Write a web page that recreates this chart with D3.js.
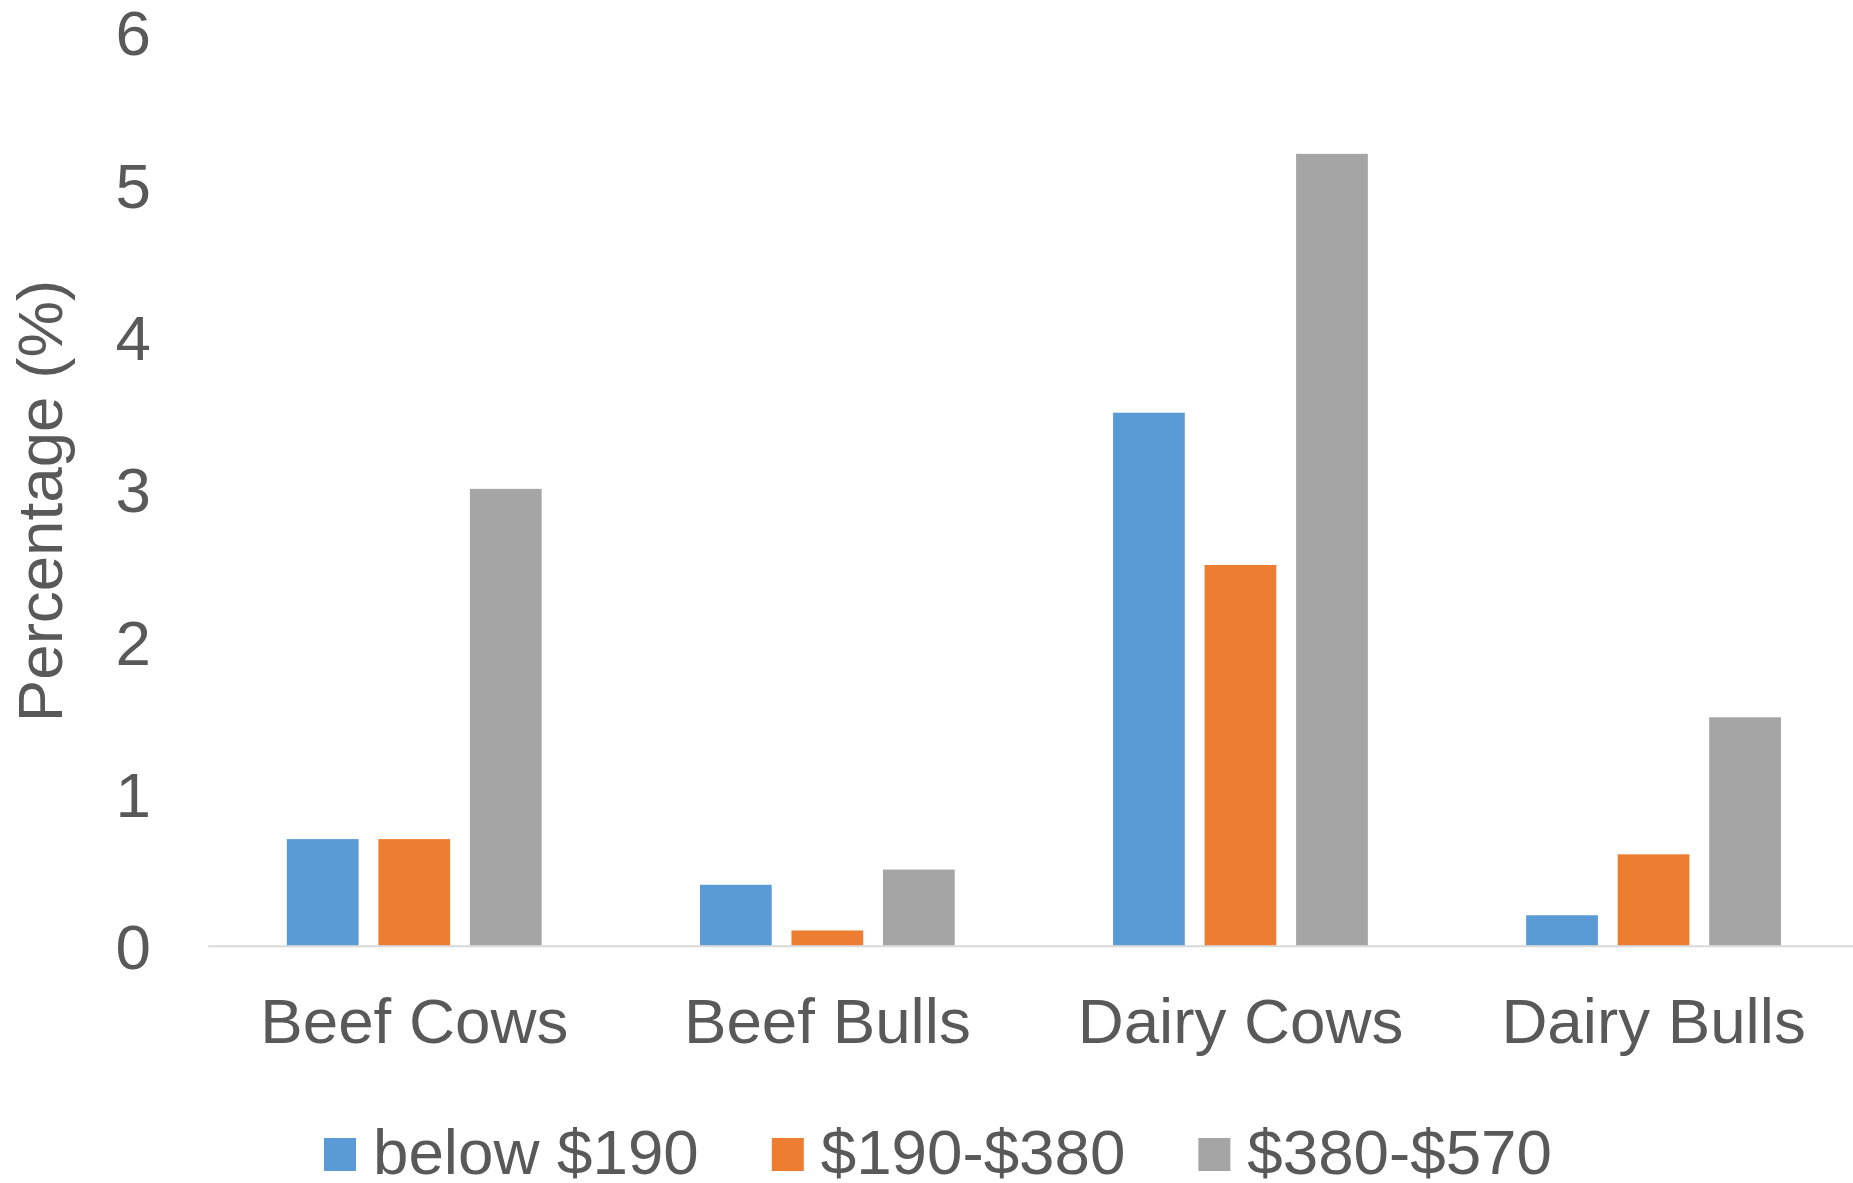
<!DOCTYPE html>
<html>
<head>
<meta charset="utf-8">
<script src="https://cdn.jsdelivr.net/npm/d3@7"></script>
<style>
    html, body { margin: 0; padding: 0; background: #fff; }
    text { font-family: "Liberation Sans", Arial, sans-serif; fill: #595959; }
</style>
</head>
<body>
<svg id="chart" width="1853" height="1183"></svg>
<script>
const categories = ['Beef Cows', 'Beef Bulls', 'Dairy Cows', 'Dairy Bulls'];
const seriesNames = ['below $190', '$190-$380', '$380-$570'];
const below190 = [0.7, 0.4, 3.5, 0.2];
const from190to380 = [0.7, 0.1, 2.5, 0.6];
const from380to570 = [3.0, 0.5, 5.2, 1.5];
const yTicks = [0, 1, 2, 3, 4, 5, 6];
const colors = ['#5B9BD5', '#ED7D31', '#A5A5A5'];

const seriesValues = [below190, from190to380, from380to570];
const rows = categories.map((c, i) => ({
    category: c,
    values: seriesNames.map((s, j) => ({ series: s, value: seriesValues[j][i] }))
}));

const svg = d3.select('#chart');
const fontSize = 63.7;

// category band runs a little past the right edge, as in the original
const x0 = d3.scaleBand()
    .domain(categories)
    .range([207.7, 1860.1])
    .padding(0);

const x1 = d3.scaleBand()
    .domain(seriesNames)
    .range([0, x0.bandwidth()])
    .paddingInner(0.216)
    .paddingOuter(0.865);

const y = d3.scaleLinear()
    .domain([0, 6])
    .range([945.7, 32]);

const color = d3.scaleOrdinal()
    .domain(seriesNames)
    .range(colors);

// y axis: labels only
const yAxis = svg.append('g')
    .attr('transform', 'translate(151,0)')
    .call(d3.axisLeft(y).tickValues(yTicks).tickSize(0).tickPadding(0).tickFormat(d3.format('d')));
yAxis.select('.domain').remove();
yAxis.selectAll('text')
    .attr('font-size', fontSize)
    .attr('font-family', null)
    .attr('fill', null)
    .attr('dy', '0.36em');

// bars
svg.append('g')
    .selectAll('g')
    .data(rows)
    .join('g')
        .attr('transform', d => `translate(${x0(d.category)},0)`)
    .selectAll('rect')
    .data(d => d.values)
    .join('rect')
        .attr('x', d => x1(d.series))
        .attr('y', d => y(d.value))
        .attr('width', x1.bandwidth())
        .attr('height', d => y(0) - y(d.value))
        .attr('fill', d => color(d.series));

// x axis
const xAxis = svg.append('g')
    .attr('transform', `translate(0,${y(0)})`)
    .call(d3.axisBottom(x0).tickSize(0).tickPadding(0));
xAxis.select('.domain')
    .attr('stroke', '#D9D9D9')
    .attr('stroke-width', 2);
xAxis.selectAll('text')
    .attr('font-size', fontSize)
    .attr('font-family', null)
    .attr('fill', null)
    .attr('dy', null)
    .attr('y', 97);

// y axis title
svg.append('text')
    .attr('transform', 'translate(62,501) rotate(-90)')
    .attr('text-anchor', 'middle')
    .attr('font-size', fontSize)
    .text('Percentage (%)');

// legend
const legend = svg.append('g');
let lx = 324;
seriesNames.forEach(name => {
    legend.append('rect')
        .attr('x', lx)
        .attr('y', 1138)
        .attr('width', 32)
        .attr('height', 33)
        .attr('fill', color(name));
    const t = legend.append('text')
        .attr('x', lx + 49)
        .attr('y', 1174)
        .attr('font-size', fontSize)
        .text(name);
    lx += 49 + t.node().getComputedTextLength() + 73;
});
</script>
</body>
</html>
